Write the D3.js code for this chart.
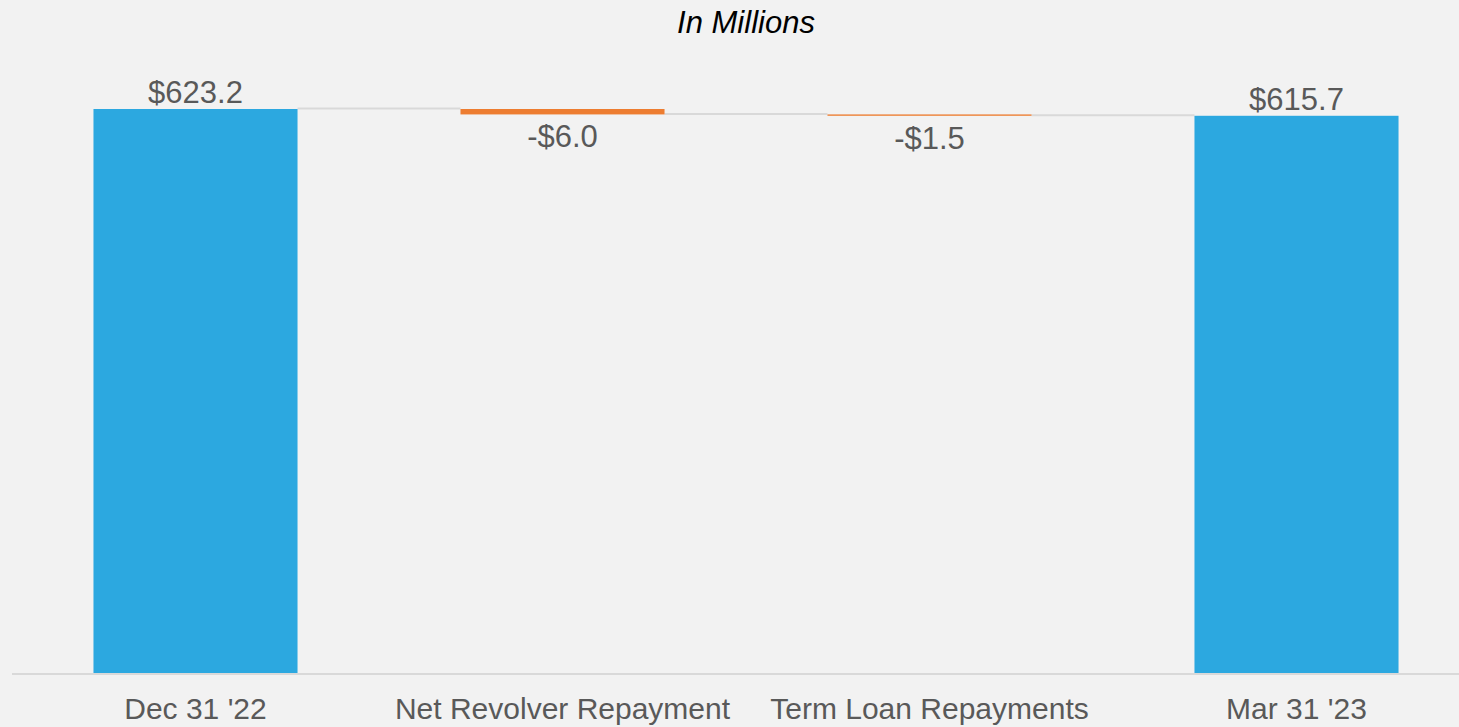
<!DOCTYPE html>
<html>
<head>
<meta charset="utf-8">
<script src="https://cdn.jsdelivr.net/npm/d3@7"></script>
<style>
  html, body { margin: 0; padding: 0; background: #f2f2f2; }
  svg { display: block; font-family: "Liberation Sans", Arial, sans-serif; }
</style>
</head>
<body>
<div class="chart"></div>
<script>
// data
var categories = ['Dec 31 \'22', 'Net Revolver Repayment', 'Term Loan Repayments', 'Mar 31 \'23'];
var values = [623.2, -6.0, -1.5, 615.7];
var isTotal = [true, false, false, true];
var labels = ['$623.2', '-$6.0', '-$1.5', '$615.7'];
var title = 'In Millions';

var svgWidth = 1459,
    svgHeight = 727;
var baseY = 673,
    topY = 109;

var svg = d3.select('.chart')
    .append('svg')
    .attr('width', svgWidth)
    .attr('height', svgHeight);

// running start/end for each step
var bars = [];
var running = 0;
for (var i = 0; i < values.length; i++) {
    var start, end;
    if (isTotal[i]) {
        start = 0;
        end = values[i];
        running = values[i];
    } else {
        start = running;
        end = running + values[i];
        running = end;
    }
    bars.push({ name: categories[i], start: start, end: end, total: isTotal[i], label: labels[i], value: values[i] });
}

var xScale = d3.scaleBand()
    .domain(categories)
    .range([12, 1480])
    .paddingInner(0.444)
    .paddingOuter(0.222);

var yScale = d3.scaleLinear()
    .domain([0, 623.2])
    .range([baseY, topY]);

// title
svg.append('text')
    .attr('x', (xScale(categories[0]) + xScale(categories[3]) + xScale.bandwidth()) / 2)
    .attr('y', 33)
    .attr('text-anchor', 'middle')
    .style('font-size', '31px')
    .style('font-style', 'italic')
    .style('fill', '#000')
    .text(title);

// axis line
svg.append('line')
    .attr('x1', 12)
    .attr('x2', svgWidth)
    .attr('y1', baseY + 1)
    .attr('y2', baseY + 1)
    .style('stroke', '#d9d9d9')
    .style('stroke-width', 2);

// connector lines
svg.append('g')
    .selectAll('line')
    .data(bars.slice(0, bars.length - 1))
    .enter()
    .append('line')
    .attr('x1', function(d) { return xScale(d.name) + xScale.bandwidth(); })
    .attr('x2', function(d, i) { return xScale(bars[i + 1].name); })
    .attr('y1', function(d) { return yScale(d.end) - 0.5; })
    .attr('y2', function(d) { return yScale(d.end) - 0.5; })
    .style('stroke', '#d9d9d9')
    .style('stroke-width', 2);

// bars
svg.append('g')
    .selectAll('rect')
    .data(bars)
    .enter()
    .append('rect')
    .attr('x', function(d) { return xScale(d.name); })
    .attr('width', xScale.bandwidth())
    .attr('y', function(d) { return yScale(Math.max(d.start, d.end)); })
    .attr('height', function(d) { return Math.abs(yScale(d.start) - yScale(d.end)); })
    .style('fill', function(d) { return d.total ? '#2ca8e0' : '#ed7d31'; });

// value labels
svg.append('g')
    .selectAll('text')
    .data(bars)
    .enter()
    .append('text')
    .attr('x', function(d) { return xScale(d.name) + xScale.bandwidth() / 2; })
    .attr('y', function(d) {
        if (d.value >= 0) return yScale(d.end) - 6;
        return yScale(d.end) + 33;
    })
    .attr('text-anchor', 'middle')
    .style('font-size', '31px')
    .style('fill', '#595959')
    .text(function(d) { return d.label; });

// category labels
svg.append('g')
    .selectAll('text')
    .data(categories)
    .enter()
    .append('text')
    .attr('x', function(d) { return xScale(d) + xScale.bandwidth() / 2; })
    .attr('y', 719)
    .attr('text-anchor', 'middle')
    .style('font-size', '30px')
    .style('fill', '#595959')
    .text(function(d) { return d; });
</script>
</body>
</html>
